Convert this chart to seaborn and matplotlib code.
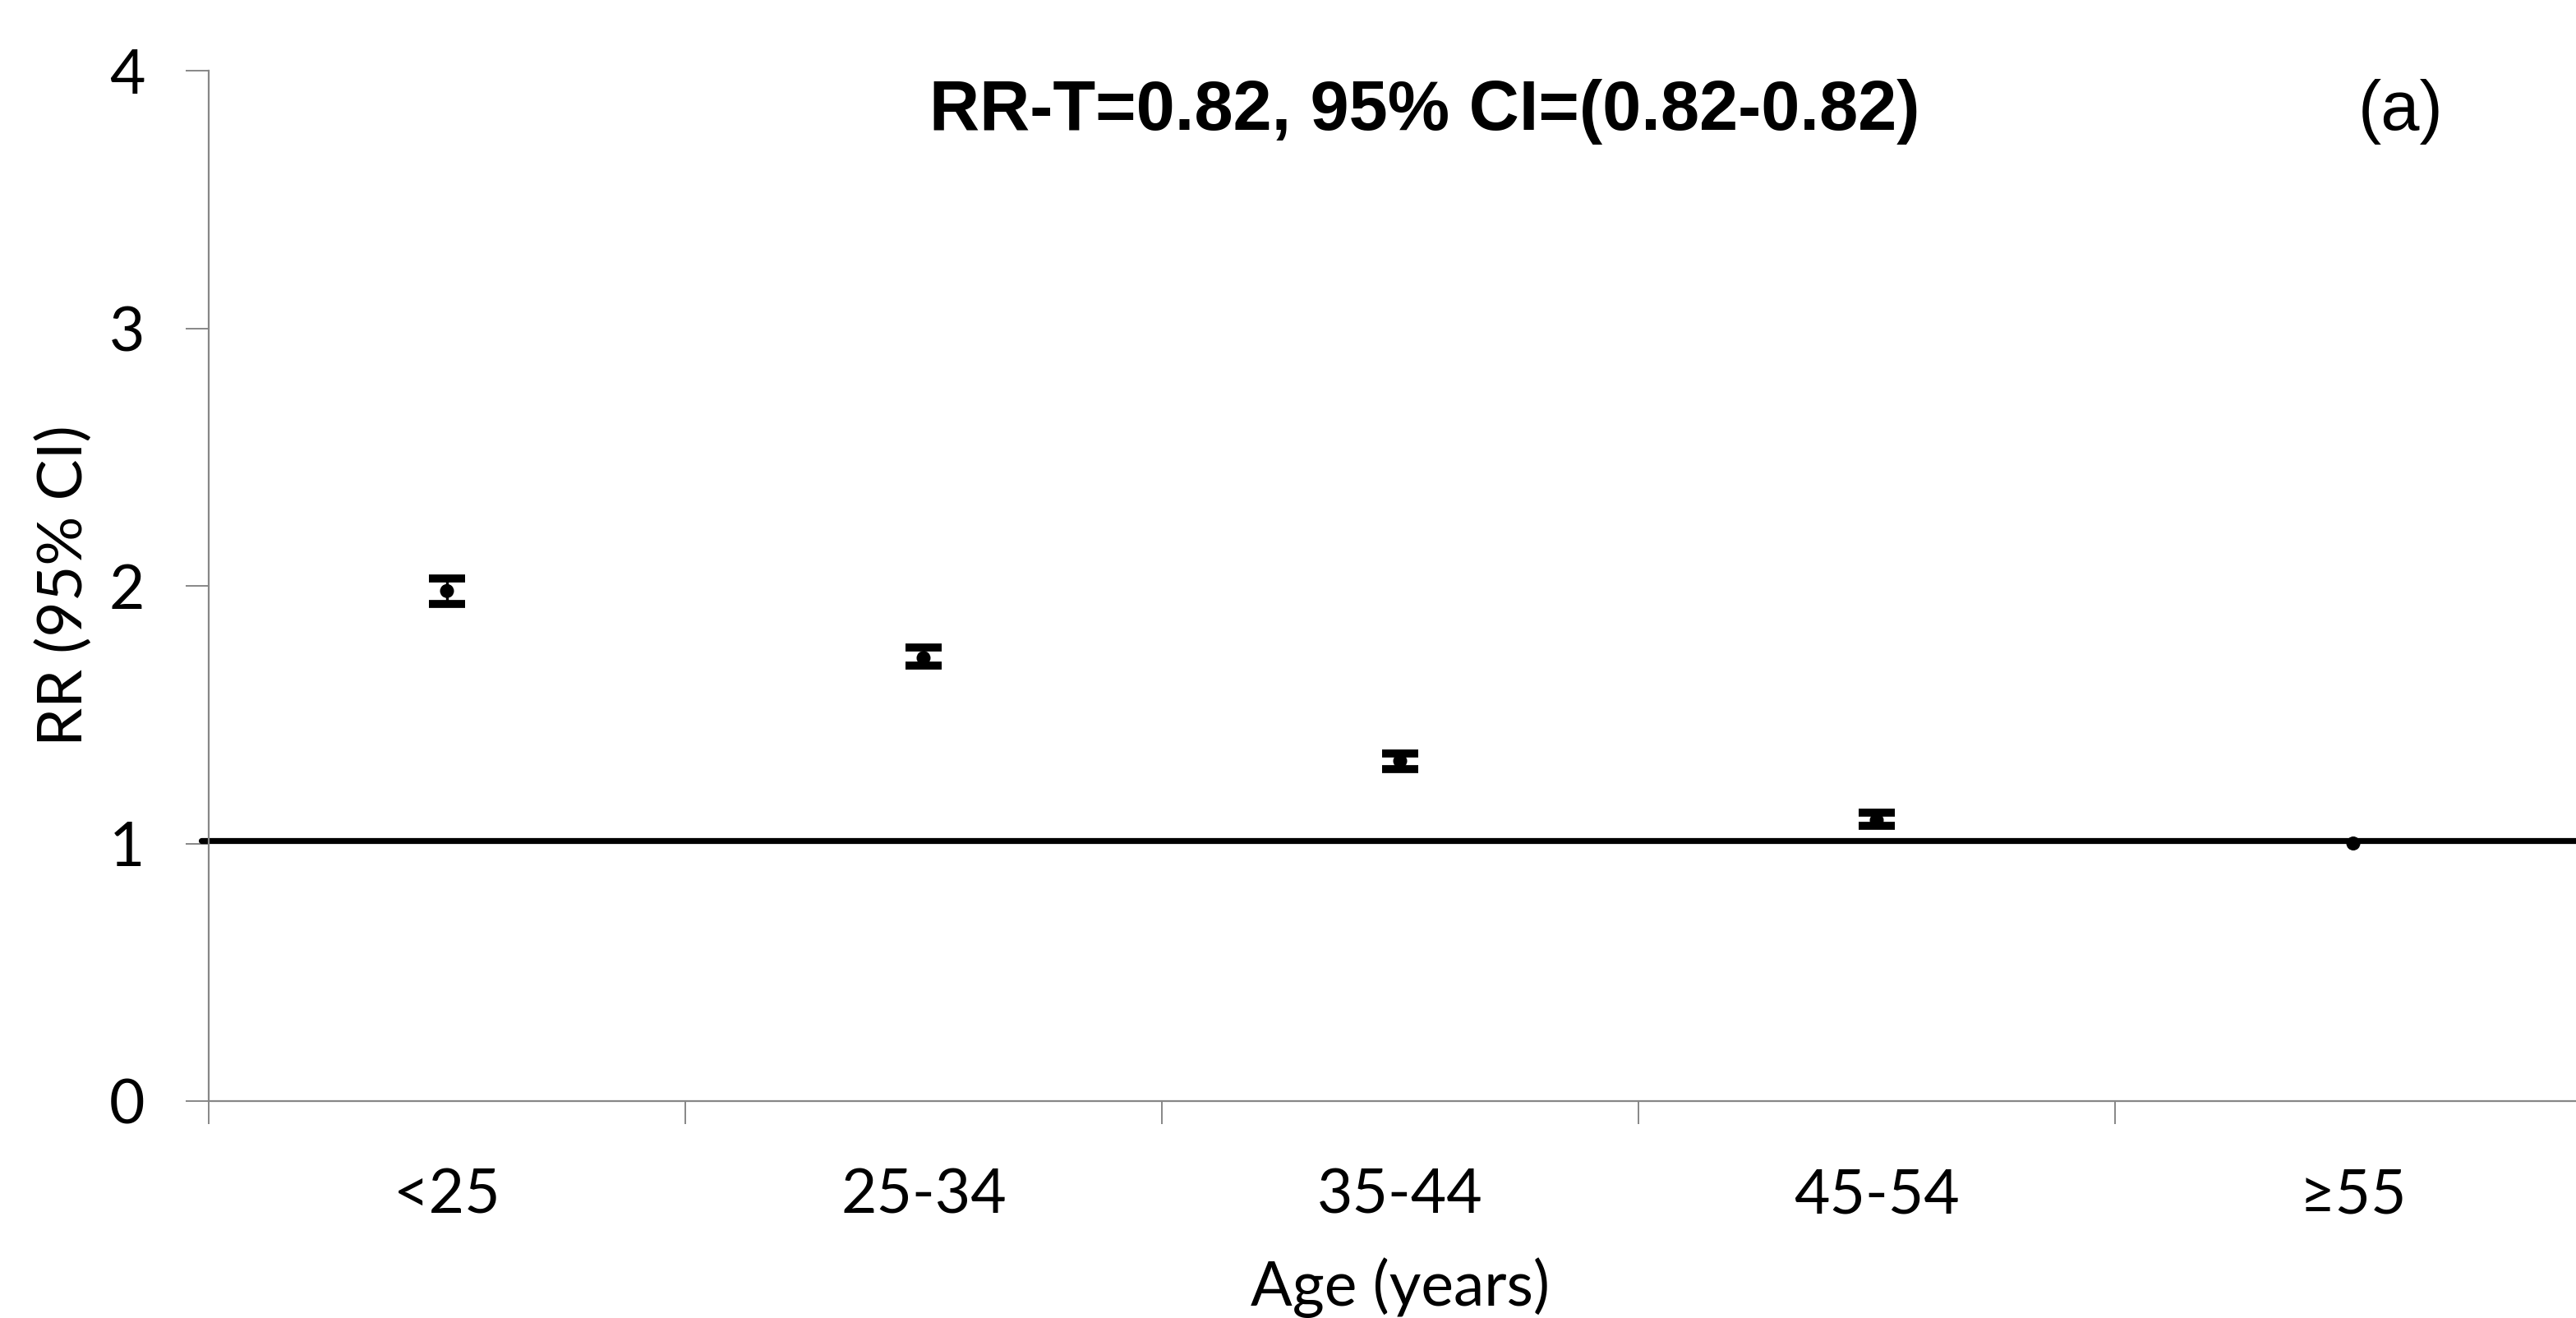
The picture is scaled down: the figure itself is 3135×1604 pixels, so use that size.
import numpy as np
import pandas as pd
import matplotlib
matplotlib.use("Agg")
import matplotlib.pyplot as plt
import seaborn as sns

# ---- data ----
age_groups = ["<25", "25-34", "35-44", "45-54", "≥55"]
rr = [1.98, 1.72, 1.32, 1.09, 1.00]
ci_low = [1.93, 1.69, 1.29, 1.07, np.nan]
ci_high = [2.03, 1.76, 1.35, 1.12, np.nan]
ref_line = 1.01
y_ticks = [0, 1, 2, 3, 4]
title_text = "RR-T=0.82, 95% CI=(0.82-0.82)"
panel_label = "(a)"

sns.set_theme(style="white")
plt.rcParams['font.family'] = ['Lato', 'DejaVu Sans']
plt.rcParams['text.color'] = 'black'
plt.rcParams['axes.labelcolor'] = 'black'

df = pd.DataFrame({"age": age_groups, "rr": rr, "lo": ci_low, "hi": ci_high})

fig = plt.figure(figsize=(31.35, 16.04), dpi=100)
ax = fig.add_axes([254 / 3135, 1 - 1340 / 1604, 2900 / 3135, (1340 - 86) / 1604])

x = np.arange(len(age_groups))
yerr = np.vstack([df["rr"] - df["lo"], df["hi"] - df["rr"]])
ax.errorbar(x, df["rr"], yerr=yerr, fmt="none", ecolor="black",
            elinewidth=2.4, capsize=16, capthick=7, zorder=3)
sns.scatterplot(data=df, x="age", y="rr", ax=ax, color="black", s=150,
                edgecolor="none", zorder=4, legend=False)

ax.axhline(ref_line, xmin=-0.003, xmax=1, color="black", lw=5.2,
           clip_on=False, zorder=2)

ax.set_xlim(-0.5, len(age_groups) - 0.5)
ax.set_ylim(0, 4)
ax.set_yticks(y_ticks)
ax.set_yticklabels([str(v) for v in y_ticks])
ax.set_xticks(x)
ax.set_xticklabels(age_groups)
ax.set_xticks(np.arange(-0.5, len(age_groups), 1.0), minor=True)

grey = "#878787"
for s in ["top", "right"]:
    ax.spines[s].set_visible(False)
for s in ["left", "bottom"]:
    ax.spines[s].set_color(grey)
    ax.spines[s].set_linewidth(1.6)

ax.tick_params(axis="x", which="major", length=0, pad=58, labelsize=54, labelcolor="black")
ax.tick_params(axis="x", which="minor", length=20, width=1.4, color=grey, direction="out", bottom=True)
ax.tick_params(axis="y", which="major", length=20, width=1.4, color=grey, direction="out",
               left=True, pad=36, labelsize=54, labelcolor="black")

ax.set_xlabel("Age (years)", fontsize=54, labelpad=29, color="black")
ax.set_ylabel("RR (95% CI)", fontsize=54, labelpad=14, color="black")

fig.text(1734 / 3135, 1 - 136 / 1604, title_text, ha="center", va="center",
         fontsize=61, fontweight="bold", color="black",
         family=["Liberation Sans", "DejaVu Sans"])
fig.text(2922 / 3135, 1 - 136 / 1604, panel_label, ha="center", va="center",
         fontsize=61, color="black", family=["Liberation Sans", "DejaVu Sans"])

fig.savefig("out.png", dpi=100, facecolor="white")
